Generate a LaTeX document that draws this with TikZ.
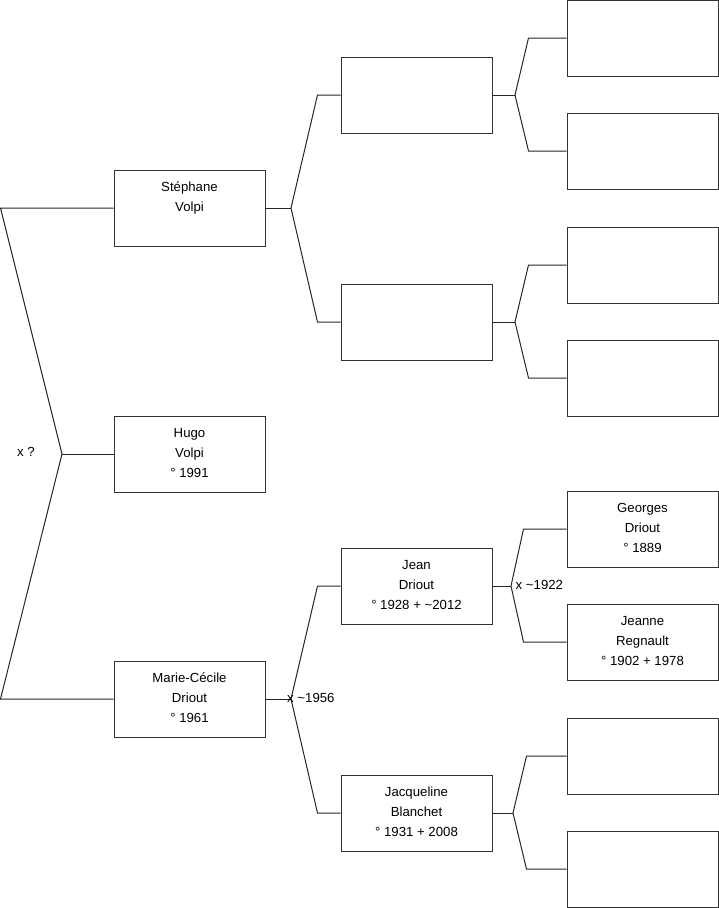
\documentclass[tikz,border=0pt]{standalone}
\usepackage{fontspec}
\setmainfont{Liberation Sans}
\newcommand{\bt}[1]{\parbox[c][76pt][t]{151pt}{\centering\fontsize{13.2}{20}\selectfont\rule{0pt}{21pt}#1\par}}
\tikzset{
  person/.style={draw=black!80, line width=1pt, minimum width=151pt, minimum height=76pt, inner sep=0pt, fill=white},
  link/.style={draw=black!85, line width=1pt},
  lbl/.style={font=\fontsize{13.2}{15}\selectfont, inner sep=0pt}
}
\begin{document}
\begin{tikzpicture}[x=1pt,y=-1pt]
\useasboundingbox (0,0) rectangle (719,908);
% column 1
\node[person] (s) at (189.5,208) {\bt{Stéphane\\Volpi}};
\node[person] (h) at (189.5,454) {\bt{Hugo\\Volpi\\° 1991}};
\node[person] (m) at (189.5,699) {\bt{Marie-Cécile\\Driout\\° 1961}};
% column 2
\node[person] (sf) at (416.5,95) {};
\node[person] (sm) at (416.5,322) {};
\node[person] (jf) at (416.5,586) {\bt{Jean\\Driout\\° 1928 + \textasciitilde2012}};
\node[person] (jm) at (416.5,813) {\bt{Jacqueline\\Blanchet\\° 1931 + 2008}};
% column 3
\node[person] (a1) at (642.5,38) {};
\node[person] (a2) at (642.5,151) {};
\node[person] (a3) at (642.5,265) {};
\node[person] (a4) at (642.5,378) {};
\node[person] (a5) at (642.5,529) {\bt{Georges\\Driout\\° 1889}};
\node[person] (a6) at (642.5,642) {\bt{Jeanne\\Regnault\\° 1902 + 1978}};
\node[person] (a7) at (642.5,756) {};
\node[person] (a8) at (642.5,869) {};
% root fork
\coordinate (r1) at (0.5,208);
\coordinate (rv) at (62,454);
\coordinate (r2) at (0.5,699);
\draw[link] (s.west) -- (r1) -- (rv) -- (r2) -- (m.west);
\draw[link] (rv) -- (h.west);
\node[lbl] (lr) at (26,452) {x ?};
% Stéphane fork
\coordinate (v1) at (291,208);
\draw[link] (s.east) -- (v1);
\draw[link] (sf.west) -- +(-23,0) -- (v1) -- ([xshift=-23pt]sm.west) -- (sm.west);
% Marie fork
\coordinate (v2) at (291,699);
\draw[link] (m.east) -- (v2);
\draw[link] (jf.west) -- +(-23,0) -- (v2) -- ([xshift=-23pt]jm.west) -- (jm.west);
\node[lbl, anchor=west] (l2) at (287,698) {x \textasciitilde1956};
% column 2 -> 3 forks
\coordinate (v3) at (515,95);
\draw[link] (sf.east) -- (v3);
\draw[link] (a1.west) -- +(-38,0) -- (v3) -- ([xshift=-38pt]a2.west) -- (a2.west);
\coordinate (v4) at (515,322);
\draw[link] (sm.east) -- (v4);
\draw[link] (a3.west) -- +(-38,0) -- (v4) -- ([xshift=-38pt]a4.west) -- (a4.west);
\coordinate (v5) at (511,586);
\draw[link] (jf.east) -- (v5);
\draw[link] (a5.west) -- +(-43,0) -- (v5) -- ([xshift=-43pt]a6.west) -- (a6.west);
\node[lbl, anchor=west] (l3) at (515.5,585) {x \textasciitilde1922};
\coordinate (v6) at (513,813);
\draw[link] (jm.east) -- (v6);
\draw[link] (a7.west) -- +(-40,0) -- (v6) -- ([xshift=-40pt]a8.west) -- (a8.west);
\end{tikzpicture}
\end{document}
